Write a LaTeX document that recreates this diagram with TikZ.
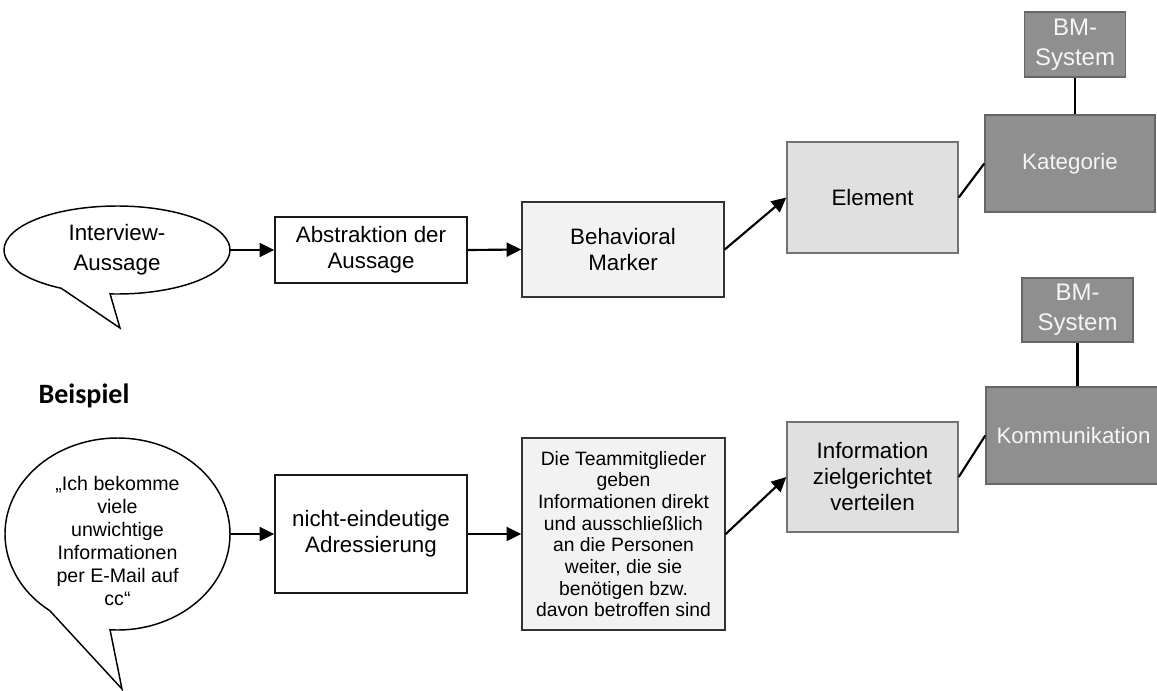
\documentclass[tikz,border=0pt]{standalone}
\usepackage{fontspec}
\setmainfont{Liberation Sans}
\newfontfamily\labelfont{Carlito}
\usetikzlibrary{arrows.meta,shapes.geometric}

\begin{document}
\begin{tikzpicture}[x=0.75pt,y=-0.75pt,
  every node/.style={inner sep=0pt, align=center},
  big/.style={font=\fontsize{16.75}{19.5}\selectfont},
  small/.style={font=\fontsize{14.5}{16.25}\selectfont},
  plain/.style={draw=black!90, line width=1.1pt, fill=white, big},
  marker/.style={draw=black!80, line width=1.1pt, fill=black!5},
  element/.style={draw=black!55, line width=1.1pt, fill=black!12, big},
  category/.style={draw=black!60, line width=1.1pt, fill=black!44, text=white!96!black},
  bubble/.style={draw=black, line width=1.1pt, fill=white},
  flow/.style={line width=1.6pt, -{Triangle[length=11pt,width=10.5pt]}},
  link/.style={line width=1.6pt}
]
\useasboundingbox (0,0) rectangle (1157,690);

% speech bubbles (ellipse with a pointed tail)
\draw[bubble] (117,250) ++(119.6:113 and 44)
  arc[start angle=119.6, end angle=453.5, x radius=113, y radius=44]
  -- (120,328) -- cycle;
\draw[bubble] (117.5,534) ++(127:112.5 and 96)
  arc[start angle=127, end angle=453.8, x radius=112.5, y radius=96]
  -- (122,689) -- cycle;

% upper chain
\node[ellipse, minimum width=169.5pt, minimum height=66pt,
      font=\fontsize{16.75}{22.5}\selectfont] (q1) at (117,250) {Interview-\\Aussage};
\node[plain, minimum width=144pt, minimum height=49.5pt] (abs) at (371,250)
  {Abstraktion der\\Aussage};
\node[marker, big, minimum width=151.5pt, minimum height=71.25pt] (bm) at (623,249.5)
  {Behavioral\\Marker};
\node[element, minimum width=128.25pt, minimum height=83.25pt] (elem) at (872.5,197.5)
  {Element};
\node[category, big, minimum width=127.5pt, minimum height=72.75pt] (kat) at (1070,163.5)
  {Kategorie};
\node[category, font=\fontsize{18}{22.5}\selectfont, minimum width=75.75pt,
      minimum height=48.75pt] (sys1) at (1075,44.5) {BM-\\System};

% lower chain
\node[anchor=base, font=\labelfont\bfseries\fontsize{21}{25}\selectfont] (ex) at (84,403)
  {Beispiel};
\node[ellipse, minimum width=168.75pt, minimum height=144pt] (q2) at (117.5,534) {};
\node[font=\fontsize{14.7}{17.25}\selectfont] (q2t) at (117.5,541)
  {„Ich bekomme\\viele\\unwichtige\\Informationen\\per E-Mail auf\\cc“};
\node[plain, minimum width=144pt, minimum height=88.5pt] (adr) at (371,534)
  {nicht-eindeutige\\Adressierung};
\node[marker, small, minimum width=152.25pt, minimum height=144pt] (team) at (623.5,534)
  {Die Teammitglieder\\geben\\Informationen direkt\\und ausschließlich\\an die Personen\\weiter, die sie\\benötigen bzw.\\davon betroffen sind};
\node[element, minimum width=128.25pt, minimum height=82.5pt] (info) at (872.5,477)
  {Information\\zielgerichtet\\verteilen};
\node[category, big, minimum width=131.25pt, minimum height=72.75pt] (komm) at (1073.5,435.5)
  {Kommunikation};
\node[category, font=\fontsize{18}{22.5}\selectfont, minimum width=83.25pt,
      minimum height=48pt] (sys2) at (1077.5,310) {BM-\\System};

% connectors
\draw[flow] (q1.east) -- (abs.west);
\draw[flow] (abs.east) -- (bm.west);
\draw[flow] (bm.east) -- (elem.west);
\draw[link] (elem.east) -- (kat.west);
\draw[link] (sys1.south) -- (sys1.south |- kat.north);

\draw[flow] (q2.east) -- (adr.west);
\draw[flow] (adr.east) -- (team.west);
\draw[flow] (team.east) -- (info.west);
\draw[link] (info.east) -- (komm.west);
\draw[link] (sys2.south) -- (sys2.south |- komm.north);
\end{tikzpicture}
\end{document}
